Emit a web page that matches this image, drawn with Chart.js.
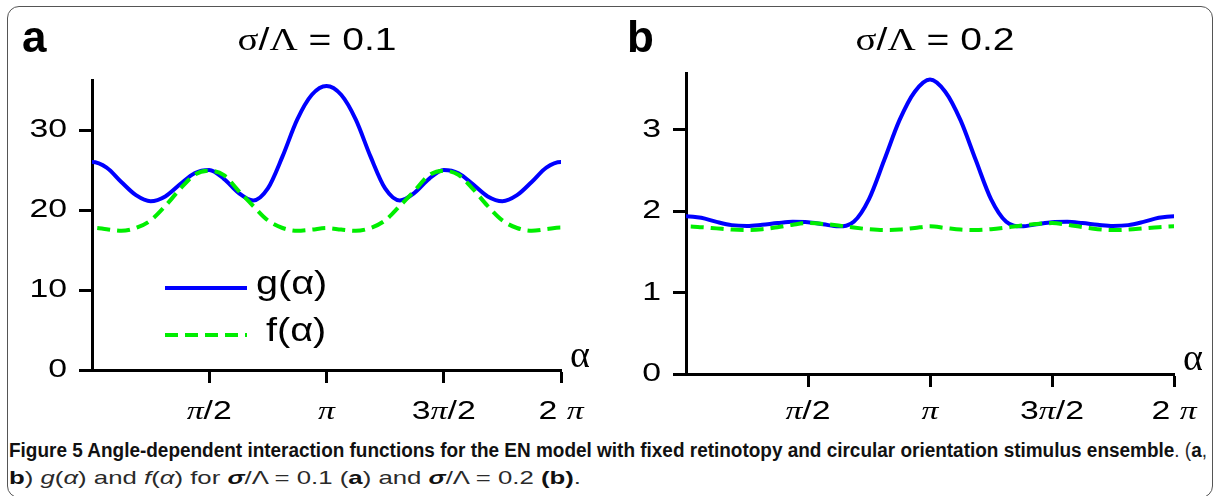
<!DOCTYPE html>
<html>
<head>
<meta charset="utf-8">
<title>Figure 5</title>
<script src="https://cdn.jsdelivr.net/npm/chart.js@4.4.0/dist/chart.umd.min.js"></script>
<style>
  body { margin: 0; background: #fff; width: 1215px; height: 496px; overflow: hidden; position: relative;
         font-family: "Liberation Sans", Arial, sans-serif; }
  #frame { position: absolute; left: 7px; top: 6px; width: 1204px; height: 490px;
           border: 1.5px solid #555; border-radius: 12px; }
  canvas { position: absolute; top: 0; }
  #cvA { left: 0; }
  #cvB { left: 600px; }
  .cap { position: absolute; left: 9px; white-space: nowrap; font-size: 20px; line-height: 22px;
         font-family: "Liberation Sans Narrow", "Liberation Sans", Arial, sans-serif;
         color: #2a2a2a; transform-origin: 0 0; }
  .cap b { color: #111; }
  #cap1 { top: 439px; }
  #cap2 { top: 467px; font-size: 19px; }
</style>
</head>
<body>
<div id="frame"></div>
<canvas id="cvA" width="600" height="432"></canvas>
<canvas id="cvB" width="615" height="432"></canvas>
<div class="cap" id="cap1"><b>Figure 5 Angle-dependent interaction functions for the EN model with fixed retinotopy and circular orientation stimulus ensemble</b>. (<b>a</b>,</div>
<div class="cap" id="cap2"><b>b</b>) <i>g</i>(<i>α</i>) and <i>f</i>(<i>α</i>) for <b><i>σ</i></b>/Λ = 0.1 (<b>a</b>) and <b><i>σ</i></b>/Λ = 0.2 <b>(b)</b>.</div>
<script>
// angle grid: 33 samples, step pi/16, from 0 to 2pi
const alphaSteps = 32;
const alpha = [];
for (let k = 0; k <= alphaSteps; k++) alpha.push(k * Math.PI / 16);

// panel a, sigma/Lambda = 0.1
const gA = [26.0, 25.3, 23.5, 21.85, 21.1, 21.7, 23.2, 24.6, 25.0, 23.9, 22.15, 21.2, 22.7, 26.7, 31.3, 34.4, 35.5,
            34.4, 31.3, 26.7, 22.7, 21.2, 22.15, 23.9, 25.0, 24.6, 23.2, 21.7, 21.1, 21.85, 23.5, 25.3, 26.0];
const fA = [17.8, 17.6, 17.4, 17.75, 18.7, 20.5, 22.6, 24.4, 24.9, 24.35, 22.4, 20.5, 18.7, 17.75, 17.4, 17.55, 17.75,
            17.55, 17.4, 17.75, 18.7, 20.5, 22.4, 24.35, 24.9, 24.4, 22.6, 20.5, 18.7, 17.75, 17.4, 17.6, 17.8];
// panel b, sigma/Lambda = 0.2
const gB = [1.94, 1.92, 1.87, 1.83, 1.82, 1.835, 1.855, 1.87, 1.865, 1.84, 1.815, 1.87, 2.15, 2.63, 3.12, 3.47, 3.62,
            3.47, 3.12, 2.63, 2.15, 1.87, 1.815, 1.84, 1.865, 1.87, 1.855, 1.835, 1.82, 1.83, 1.87, 1.92, 1.94];
const fB = [1.815, 1.805, 1.79, 1.775, 1.77, 1.78, 1.805, 1.835, 1.855, 1.845, 1.825, 1.80, 1.78, 1.77, 1.775, 1.795, 1.815,
            1.795, 1.775, 1.77, 1.78, 1.80, 1.825, 1.845, 1.855, 1.835, 1.805, 1.78, 1.77, 1.775, 1.79, 1.805, 1.815];

const xTickValues = [Math.PI / 2, Math.PI, 3 * Math.PI / 2, 2 * Math.PI];
const xTickLabels = ['π/2', 'π', '3π/2', '2 π'];
const yTicksA = [0, 10, 20, 30];
const yTicksB = [0, 1, 2, 3];
const legendNames = ['g(α)', 'f(α)'];

const SANS = '"Liberation Sans", Arial, sans-serif';
const SERIF = '"Liberation Serif", "Times New Roman", serif';
const SX = 1.3; // the figure lettering is set wide

// draw a list of [text, font] pieces as one stretched string
function runs(c, parts, x, y, align, sx, base) {
  let w = 0;
  parts.forEach(p => { c.font = p[1]; w += c.measureText(p[0]).width; });
  c.save();
  c.translate(x, y);
  c.scale(sx, 1);
  c.textAlign = 'left';
  c.textBaseline = base || 'middle';
  let cx = align === 'center' ? -w / 2 : align === 'right' ? -w : 0;
  parts.forEach(p => { c.font = p[1]; c.fillText(p[0], cx, 0); cx += c.measureText(p[0]).width; });
  c.restore();
}
// pi in italic serif, the rest in sans
function piRuns(s, size) {
  return s.split(/(π)/).filter(t => t).map(t => [t, t === 'π' ? 'italic ' + size + 'px ' + SERIF : size + 'px ' + SANS]);
}
function greekRuns(s, size) {
  return s.split(/([σΛ])/).filter(t => t).map(t => [t, /[σΛ]/.test(t) ? size + 'px ' + SERIF : size + 'px ' + SANS]);
}

// the functions are 2pi-periodic, so one sample is wrapped onto each side
// of the axis range to give the curve its true slope at 0 and 2pi
function points(vals) {
  const step = alpha[1];
  const pts = vals.map((v, i) => ({ x: alpha[i], y: v }));
  pts.unshift({ x: -step, y: vals[vals.length - 2] });
  pts.push({ x: alpha[alpha.length - 1] + step, y: vals[1] });
  return pts;
}

function panel(id, p) {
  const textPlugin = {
    id: 'figText',
    afterDraw(chart) {
      const c = chart.ctx, xs = chart.scales.x, ys = chart.scales.y, a = chart.chartArea;
      c.save();
      c.fillStyle = '#000';
      xTickValues.forEach((v, i) => {
        runs(c, piRuns(xTickLabels[i], 26), xs.getPixelForValue(v), 412, 'center', SX);
      });
      p.yTicks.forEach(v => {
        runs(c, [[String(v), '26px ' + SANS]], a.left - 25, ys.getPixelForValue(v), 'right', SX);
      });
      runs(c, [['α', '38px ' + SERIF]], a.right + 19, p.alphaY, 'center', 1);
      runs(c, greekRuns(p.title, 31), p.titleX, 50, 'center', 1.26, 'alphabetic');
      runs(c, [[p.letter, 'bold 44px ' + SANS]], p.letterX, 52, 'left', 1, 'alphabetic');

      if (p.legend) {
        const ds = chart.data.datasets;
        [1, 0].forEach((di, row) => {
          const d = ds[di];
          const y = p.legend.y + row * 47;
          c.save();
          c.strokeStyle = d.borderColor;
          c.lineWidth = d.borderWidth;
          c.setLineDash(d.borderDash || []);
          c.beginPath();
          c.moveTo(p.legend.x, y);
          c.lineTo(p.legend.x + 82, y);
          c.stroke();
          c.restore();
          runs(c, [[d.label, '33px ' + SANS]], p.legend.x + 91 + row * 10, y - 3, 'left', 1.2);
        });
      }
      c.restore();
    }
  };

  new Chart(document.getElementById(id), {
    type: 'line',
    data: {
      datasets: [{
        label: legendNames[1],
        data: points(p.f),
        borderColor: '#00ee00',
        borderWidth: 4,
        borderDash: [13, 7],
        clip: 0,
        order: 0
      }, {
        label: legendNames[0],
        data: points(p.g),
        borderColor: '#0000ff',
        borderWidth: 4,
        clip: 0,
        order: 1
      }]
    },
    options: {
      responsive: false,
      animation: false,
      devicePixelRatio: 1,
      layout: { padding: { left: 0, top: p.top, right: p.right, bottom: 0 } },
      elements: {
        point: { radius: 0 },
        line: { cubicInterpolationMode: 'monotone', fill: false }
      },
      plugins: { legend: { display: false }, tooltip: { enabled: false }, title: { display: false } },
      scales: {
        x: {
          type: 'linear', min: 0, max: 2 * Math.PI,
          afterBuildTicks: s => { s.ticks = xTickValues.map(v => ({ value: v })); },
          afterFit: s => { s.height = 432 - p.bottom; },
          ticks: { display: false },
          border: { display: true, color: '#000', width: 3 },
          grid: { drawOnChartArea: false, drawTicks: true, tickLength: 13, tickWidth: 3, tickColor: '#000' }
        },
        y: {
          min: 0, max: p.yMax,
          afterBuildTicks: s => { s.ticks = p.yTicks.map(v => ({ value: v })); },
          afterFit: s => { s.width = p.left; },
          ticks: { display: false },
          border: { display: true, color: '#000', width: 3 },
          grid: { drawOnChartArea: false, drawTicks: true, tickLength: 13, tickWidth: 3, tickColor: '#000' }
        }
      }
    },
    plugins: [textPlugin]
  });
}

panel('cvA', {
  g: gA, f: fA, yMax: 36.25, yTicks: yTicksA,
  left: 92, right: 39, top: 80, bottom: 370,
  title: 'σ/Λ = 0.1', titleX: 317, letter: 'a', letterX: 22, alphaY: 357,
  legend: { x: 165, y: 288 }
});
panel('cvB', {
  g: gB, f: fB, yMax: 3.70, yTicks: yTicksB,
  left: 86, right: 41, top: 73, bottom: 374,
  title: 'σ/Λ = 0.2', titleX: 335, letter: 'b', letterX: 27, alphaY: 360
});

// caption lines are fitted to the widths they take in the printed figure
const cap1 = document.getElementById('cap1');
const cap2 = document.getElementById('cap2');
cap1.style.transform = 'scaleX(' + (1198 / cap1.getBoundingClientRect().width) + ')';
cap2.style.transform = 'scaleX(' + (572 / cap2.getBoundingClientRect().width) + ')';
</script>
</body>
</html>
